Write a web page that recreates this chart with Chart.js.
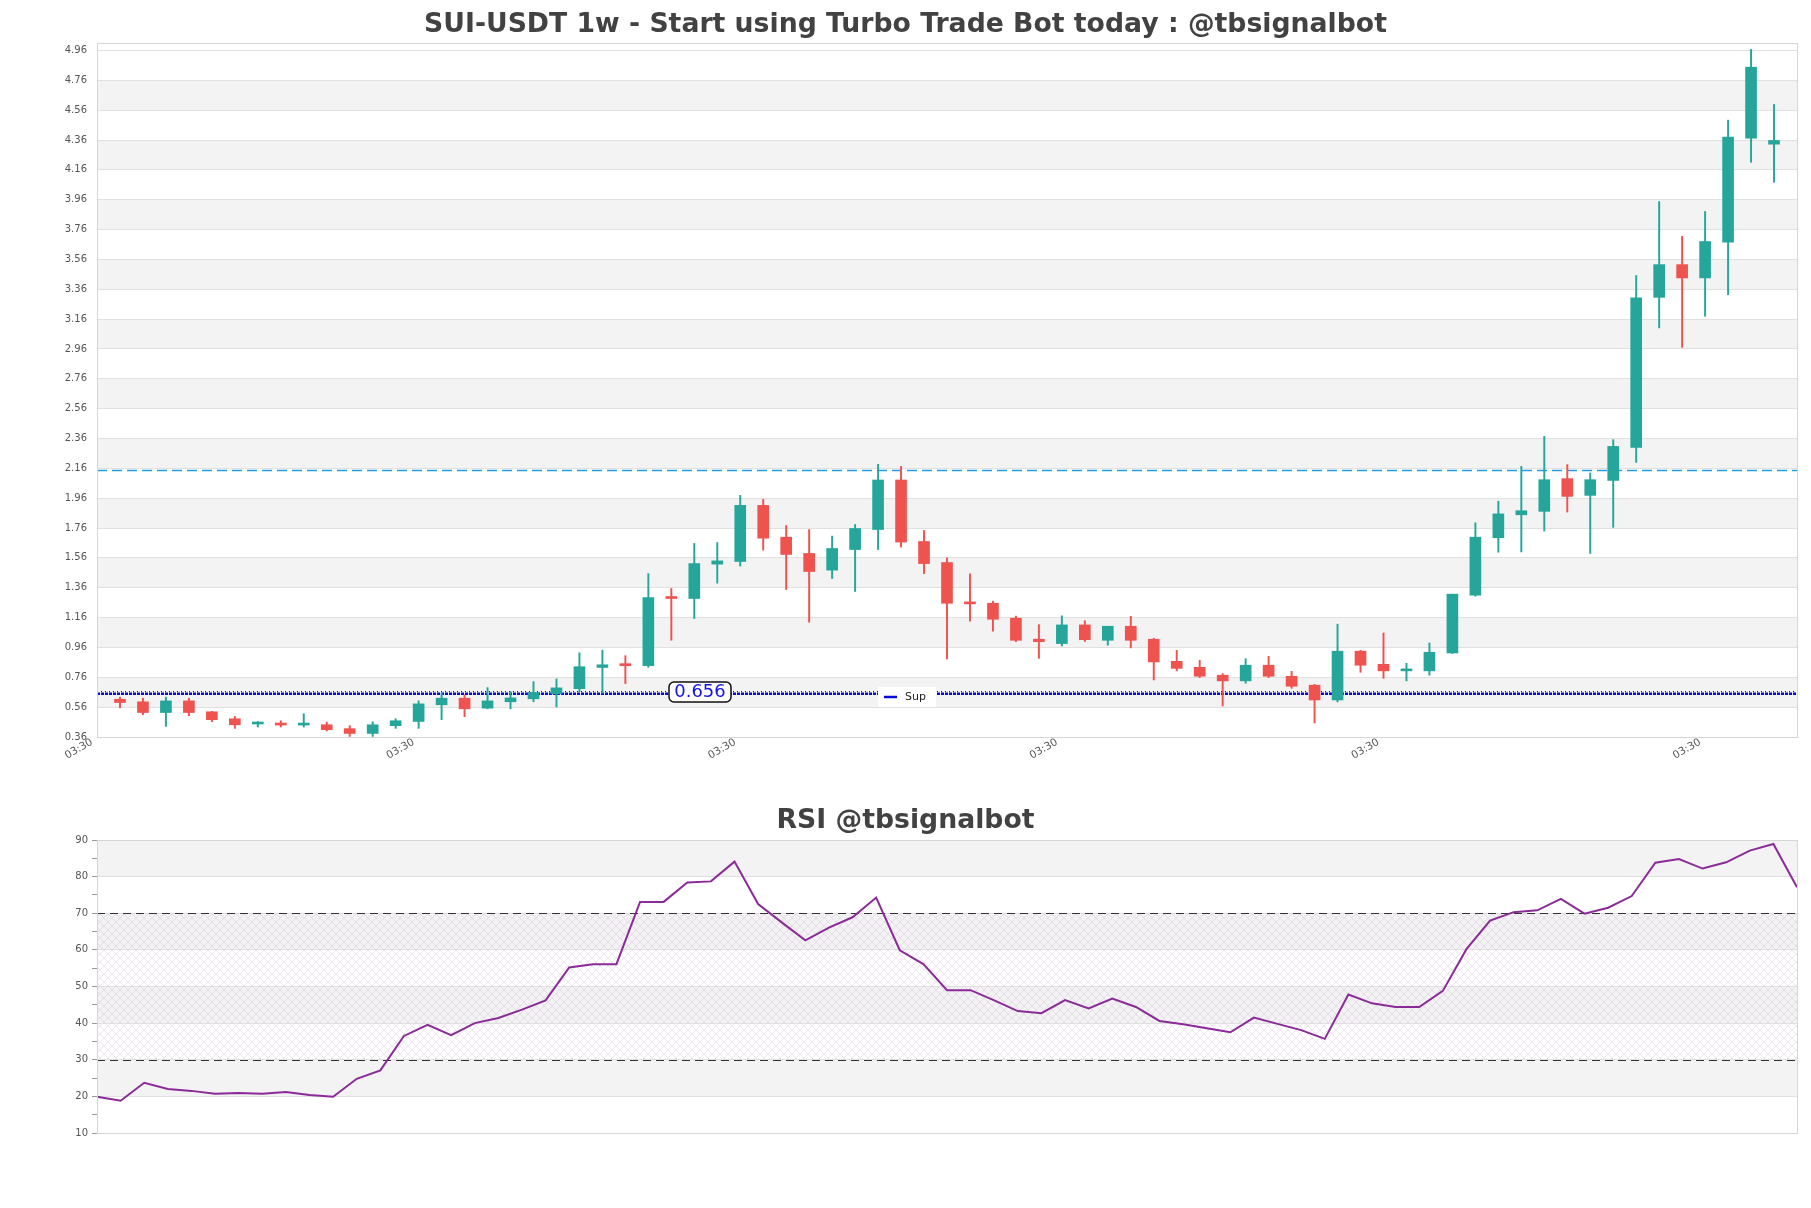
<!DOCTYPE html>
<html><head><meta charset="utf-8">
<script src="https://cdn.jsdelivr.net/npm/chart.js@4.4.1/dist/chart.umd.min.js"></script>
<style>
html,body{margin:0;padding:0;background:#fff;width:1811px;height:1208px;overflow:hidden;}
#c1{position:absolute;left:0;top:0;}
#c2{position:absolute;left:0;top:790px;}
</style></head><body>
<canvas id="c1" width="1811" height="790"></canvas>
<canvas id="c2" width="1811" height="418"></canvas>
<script>
// ---------------- DATA ----------------
const mainTitle = 'SUI-USDT 1w - Start using Turbo Trade Bot today : @tbsignalbot';
const rsiTitle = 'RSI @tbsignalbot';

const opens  = [0.613,0.596,0.524,0.602,0.529,0.482,0.447,0.451,0.440,0.442,0.416,0.384,0.436,0.464,0.576,0.620,0.553,0.596,0.616,0.649,
                0.684,0.826,0.847,0.838,1.298,1.288,1.518,1.536,1.912,1.699,1.590,1.478,1.616,1.750,2.082,1.670,1.529,1.263,1.256,1.156,
                1.015,0.986,1.111,1.008,1.102,1.015,0.867,0.827,0.774,0.736,0.841,0.767,0.707,0.608,0.935,0.847,0.803,0.803,0.923,1.310,
                1.695,1.849,1.872,2.091,1.979,2.079,2.301,3.306,3.525,3.436,3.675,4.372,4.332];
const highs  = [0.627,0.620,0.627,0.620,0.532,0.498,0.464,0.469,0.516,0.460,0.436,0.462,0.482,0.602,0.653,0.642,0.691,0.664,0.731,0.749,
                0.924,0.942,0.905,1.455,1.355,1.657,1.663,1.979,1.952,1.777,1.750,1.706,1.784,2.187,2.173,1.744,1.560,1.453,1.270,1.170,
                1.113,1.172,1.139,1.102,1.169,1.022,0.941,0.874,0.785,0.885,0.901,0.800,0.713,1.116,0.941,1.057,0.854,0.990,1.317,1.795,
                1.940,2.173,2.374,2.185,2.129,2.352,3.452,3.948,3.715,3.881,4.493,4.967,4.598];
const lows   = [0.556,0.509,0.431,0.502,0.462,0.418,0.427,0.427,0.427,0.400,0.364,0.364,0.418,0.418,0.476,0.496,0.549,0.549,0.596,0.562,
                0.662,0.653,0.718,0.827,1.008,1.154,1.391,1.505,1.612,1.348,1.129,1.422,1.335,1.616,1.632,1.455,0.883,1.136,1.069,0.999,
                0.887,0.970,1.000,0.975,0.957,0.742,0.803,0.758,0.568,0.720,0.758,0.686,0.454,0.595,0.794,0.753,0.736,0.774,0.920,1.303,
                1.598,1.600,1.740,1.867,1.590,1.765,2.200,3.101,2.971,3.179,3.324,4.211,4.077];
const closes = [0.591,0.524,0.602,0.524,0.476,0.442,0.452,0.440,0.445,0.409,0.384,0.442,0.469,0.582,0.620,0.549,0.602,0.622,0.658,0.689,
                0.831,0.844,0.838,1.294,1.288,1.522,1.540,1.912,1.692,1.583,1.469,1.623,1.757,2.082,1.666,1.522,1.256,1.252,1.149,1.008,
                0.999,1.111,1.012,1.102,1.008,0.863,0.820,0.767,0.736,0.841,0.767,0.700,0.608,0.935,0.841,0.803,0.807,0.928,1.317,1.699,
                1.855,1.876,2.084,1.972,2.084,2.307,3.302,3.525,3.436,3.680,4.379,4.848,4.357];
const rsiValues = [19.9,18.8,23.7,22.0,21.5,20.7,20.9,20.7,21.2,20.4,19.9,24.8,27.1,36.5,39.5,36.7,40.0,41.4,43.7,46.2,
                   55.2,56.1,56.1,73.1,73.1,78.4,78.7,84.1,72.5,67.5,62.6,66.1,68.9,74.3,59.9,56.1,49.0,49.0,46.2,43.3,
                   42.7,46.3,44.0,46.7,44.4,40.6,39.7,38.6,37.5,41.5,39.8,38.1,35.7,47.8,45.4,44.4,44.4,48.8,60.2,68.0,
                   70.3,70.8,73.9,69.9,71.5,74.7,83.8,84.8,82.2,83.9,87.1,88.9,77.1];
const priceTicks = [0.36,0.56,0.76,0.96,1.16,1.36,1.56,1.76,1.96,2.16,2.36,2.56,2.76,2.96,3.16,3.36,3.56,3.76,3.96,4.16,4.36,4.56,4.76,4.96];
const timeTickPositions = [-1,13,27,41,55,69];
const timeTickLabels = ['03:30','03:30','03:30','03:30','03:30','03:30'];
const rsiTicks = [10,20,30,40,50,60,70,80,90];
const rsiMinorTicks = [15,25,35,45,55,65,75,85];
const supportLevel = 0.656;
const supportLabel = '0.656';
const supportName = 'Sup';
const resistanceLevel = 2.147;
const priceMin = 0.36, priceMax = 5.01;
const rsiUpper = 70, rsiLower = 30;

// ---------------- STYLE ----------------
const GREEN = '#26a69a', RED = '#ef5350';
const BAND = '#f3f3f3', GRID = '#e0e0e0', BORDER = '#d6d6d6';
const FONT = '"DejaVu Sans", Verdana, sans-serif';
Chart.defaults.font.family = FONT;
Chart.defaults.animation = false;

const candleColors = opens.map((o,i)=> closes[i] >= o ? GREEN : RED);
const n = opens.length;

function drawBands(chart, yScale, ticks){
  const ctx = chart.ctx, a = chart.chartArea;
  ctx.save();
  ctx.fillStyle = '#fff';
  ctx.fillRect(0,0,chart.width,chart.height);
  ctx.fillStyle = BAND;
  for (let k=1;k<ticks.length-1;k+=2){
    const y1 = yScale.getPixelForValue(ticks[k+1]);
    const y0 = yScale.getPixelForValue(ticks[k]);
    ctx.fillRect(a.left, y1, a.right-a.left, y0-y1);
  }
  ctx.restore();
}
function drawBorderAndTitle(chart, text, ty){
  const ctx = chart.ctx, a = chart.chartArea;
  ctx.save();
  ctx.strokeStyle = BORDER; ctx.lineWidth = 1;
  ctx.strokeRect(Math.round(a.left)+0.5, Math.round(a.top)+0.5, Math.round(a.right-a.left), Math.round(a.bottom-a.top));
  ctx.fillStyle = '#424242';
  ctx.font = 'bold 26.7px ' + FONT;
  ctx.textAlign = 'center'; ctx.textBaseline = 'middle';
  ctx.fillText(text, chart.width/2, ty);
  ctx.restore();
}

// ---------------- MAIN CHART ----------------
const mainPlugin = {
  id: 'mainDeco',
  beforeDraw(chart){ drawBands(chart, chart.scales.y, priceTicks); },
  beforeDatasetsDraw(chart){
    const ctx = chart.ctx, a = chart.chartArea, y = chart.scales.y;
    ctx.save();
    // resistance dashed line
    const yr = Math.round(y.getPixelForValue(resistanceLevel))+0.5;
    ctx.strokeStyle = '#239be0'; ctx.lineWidth = 1.3; ctx.setLineDash([10,5]);
    ctx.beginPath(); ctx.moveTo(a.left, yr); ctx.lineTo(a.right, yr); ctx.stroke();
    // support dotted line
    const ys = Math.round(y.getPixelForValue(supportLevel));
    ctx.strokeStyle = '#0808d8'; ctx.lineWidth = 2.5; ctx.setLineDash([3,1]);
    ctx.beginPath(); ctx.moveTo(a.left, ys+0.75); ctx.lineTo(a.right, ys+0.75); ctx.stroke();
    ctx.lineWidth = 1.2; ctx.setLineDash([1,3]);
    ctx.beginPath(); ctx.moveTo(a.left, ys-1.5); ctx.lineTo(a.right, ys-1.5); ctx.stroke();
    ctx.restore();
  },
  afterDatasetsDraw(chart){
    const ctx = chart.ctx, y = chart.scales.y;
    const ys = Math.round(y.getPixelForValue(supportLevel));
    ctx.save();
    // value label box
    const bx = 669, bw = 62, by = ys-11, bh = 20;
    ctx.beginPath(); ctx.roundRect(bx, by, bw, bh, 5);
    ctx.fillStyle = '#fff'; ctx.fill();
    ctx.strokeStyle = '#111'; ctx.lineWidth = 1.5; ctx.stroke();
    ctx.fillStyle = '#1414e6'; ctx.font = '18px ' + FONT;
    ctx.textAlign = 'center'; ctx.textBaseline = 'middle';
    ctx.fillText(supportLabel, bx+bw/2, by+bh/2+0.5);
    // legend box
    ctx.fillStyle = '#fff';
    ctx.fillRect(878, ys-6, 58, 20);
    ctx.strokeStyle = '#0a0ad8'; ctx.lineWidth = 2.5; ctx.setLineDash([]);
    ctx.beginPath(); ctx.moveTo(884, ys+4); ctx.lineTo(897, ys+4); ctx.stroke();
    ctx.fillStyle = '#222'; ctx.font = '11px ' + FONT; ctx.textAlign = 'left';
    ctx.fillText(supportName, 905, ys+4);
    ctx.restore();
  },
  afterDraw(chart){ drawBorderAndTitle(chart, mainTitle, 25); }
};

new Chart(document.getElementById('c1'), {
  type: 'bar',
  data: {
    datasets: [
      { label: 'body', data: opens.map((o,i)=>({x:i, y:[o, closes[i]]})),
        backgroundColor: candleColors, borderWidth: 0, barThickness: 11, minBarLength: 2, grouped: false, order: 1 },
      { label: 'wick', data: lows.map((l,i)=>({x:i, y:[l, highs[i]]})),
        backgroundColor: candleColors, borderWidth: 0, barThickness: 1.3, grouped: false, order: 2 }
    ]
  },
  options: {
    responsive: false, devicePixelRatio: 1, animation: false,
    layout: { padding: { top: 43, right: 14, left: 0, bottom: 0 } },
    plugins: { legend: { display: false }, tooltip: { enabled: false }, title: { display: false } },
    scales: {
      x: {
        type: 'linear', min: -1, max: n, offset: false,
        grid: { display: false }, border: { display: false },
        afterBuildTicks(s){ s.ticks = timeTickPositions.map(v=>({value:v})); },
        afterFit(s){ s.height = 53; },
        ticks: { autoSkip: false, maxRotation: 30, minRotation: 30, padding: -9, labelOffset: -5, color: '#555', font: { size: 10.5 },
                 callback(v, i){ return timeTickLabels[i]; } }
      },
      y: {
        type: 'linear', min: priceMin, max: priceMax,
        grid: { color: GRID, drawTicks: false }, border: { display: false },
        afterBuildTicks(s){ s.ticks = priceTicks.map(v=>({value:v})); },
        afterFit(s){ s.width = 97; },
        ticks: { padding: 10, color: '#555', font: { size: 10 }, callback(v){ return Number(v).toFixed(2); } }
      }
    }
  },
  plugins: [mainPlugin]
});

// ---------------- RSI CHART ----------------
function hatchPattern(ctx){
  const c = document.createElement('canvas'); c.width = 8; c.height = 8;
  const g = c.getContext('2d');
  g.strokeStyle = 'rgba(195,170,210,0.4)'; g.lineWidth = 0.7;
  g.beginPath(); g.moveTo(0,0); g.lineTo(8,8); g.moveTo(8,0); g.lineTo(0,8); g.stroke();
  return ctx.createPattern(c, 'repeat');
}
const rsiPlugin = {
  id: 'rsiDeco',
  beforeDraw(chart){
    const y = chart.scales.y, a = chart.chartArea, ctx = chart.ctx;
    drawBands(chart, y, rsiTicks);
    ctx.save();
    const y1 = y.getPixelForValue(rsiUpper), y0 = y.getPixelForValue(rsiLower);
    ctx.fillStyle = hatchPattern(ctx);
    ctx.fillRect(a.left, y1, a.right-a.left, y0-y1);
    ctx.restore();
  },
  beforeDatasetsDraw(chart){
    const y = chart.scales.y, a = chart.chartArea, ctx = chart.ctx;
    ctx.save();
    ctx.strokeStyle = '#333'; ctx.lineWidth = 1.2; ctx.setLineDash([8,5]);
    [rsiUpper, rsiLower].forEach(v=>{
      const p = Math.round(y.getPixelForValue(v))+0.5;
      ctx.beginPath(); ctx.moveTo(a.left, p); ctx.lineTo(a.right, p); ctx.stroke();
    });
    ctx.restore();
  },
  afterDraw(chart){ drawBorderAndTitle(chart, rsiTitle, 31); }
};

new Chart(document.getElementById('c2'), {
  type: 'line',
  data: {
    labels: rsiValues.map((_,i)=>i),
    datasets: [{ data: rsiValues, borderColor: '#8a2b98', borderWidth: 2, pointRadius: 0, tension: 0, fill: false }]
  },
  options: {
    responsive: false, devicePixelRatio: 1, animation: false,
    layout: { padding: { top: 50, right: 14, left: 0, bottom: 75 } },
    plugins: { legend: { display: false }, tooltip: { enabled: false } },
    scales: {
      x: { type: 'category', display: false, offset: false },
      y: {
        min: 10, max: 90,
        border: { display: false },
        grid: { color: c => (c.tick && c.tick.value % 10 === 0) ? GRID : 'rgba(0,0,0,0)', tickColor: '#999', tickLength: 5, drawTicks: true },
        afterBuildTicks(s){ s.ticks = rsiTicks.concat(rsiMinorTicks).sort((p,q)=>p-q).map(v=>({value:v})); },
        afterFit(s){ s.width = 97; },
        ticks: { padding: 4, color: '#555', font: { size: 10 }, autoSkip: false,
                 callback(v){ return rsiTicks.includes(v) ? String(v) : ''; } }
      }
    }
  },
  plugins: [rsiPlugin]
});
</script>
</body></html>
